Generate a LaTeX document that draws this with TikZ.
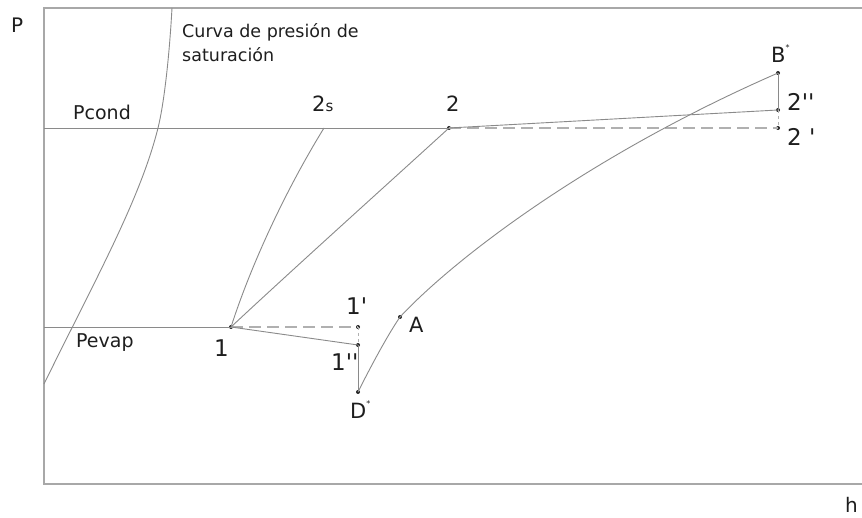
\documentclass[tikz,border=0pt]{standalone}
\usepackage{fontspec}
\setmainfont{DejaVu Sans}
\definecolor{ln}{HTML}{8A8A8A}
\definecolor{fr}{HTML}{A8A8A8}
\definecolor{dsh}{HTML}{B0B0B0}
\definecolor{tx}{HTML}{1E1E1E}
\tikzset{
  frameline/.style={draw=fr, line width=1.4pt},
  curveline/.style={draw=ln, line width=0.9pt},
  dashline/.style={draw=dsh, line width=1.5pt, dash pattern=on 12pt off 6pt},
  shortdash/.style={draw=dsh, line width=1pt, dash pattern=on 3pt off 3pt},
  lbl/.style={inner sep=0pt, anchor=base west, text=tx, font=\fontsize{21}{24}\selectfont},
  axislbl/.style={inner sep=0pt, anchor=base west, text=tx, font=\fontsize{19}{22}\selectfont},
  note/.style={inner sep=0pt, anchor=base west, text=tx, font=\fontsize{17.5}{24}\selectfont},
  ptdot/.style={circle, fill=black!85, inner sep=0pt, minimum size=4pt}
}
\newcommand{\smallstar}{\raisebox{0.55em}{\fontsize{8}{8}\selectfont *}}
\begin{document}
\begin{tikzpicture}[x=1pt,y=-1pt]
\useasboundingbox (0,0) rectangle (862,518);
% frame
\coordinate (fTR) at (862,8);
\coordinate (fTL) at (44,8);
\coordinate (fBL) at (44,484);
\coordinate (fBR) at (862,484);
\draw[frameline] (fTR) -- (fTL) -- (fBL) -- (fBR);
% key points
\coordinate (condL) at (44,128);
\coordinate (evapL) at (44,327);
\coordinate (p2s) at (324,128);
\coordinate (satTop) at (172,8);
\coordinate (satMid) at (158,128);
\coordinate (satBot) at (44,384);
\node[ptdot] (p1) at (231,327) {};
\node[ptdot] (p1a) at (358,327) {};
\node[ptdot] (p1b) at (358,345) {};
\node[ptdot] (pD) at (358,392) {};
\node[ptdot] (pA) at (400,317) {};
\node[ptdot] (pB) at (778,73) {};
\node[ptdot] (p2) at (449,128) {};
\node[ptdot] (p2b) at (778,110) {};
\node[ptdot] (p2a) at (778,128) {};
% saturation curve
\draw[curveline] (satTop) .. controls (169,62) and (163.5,106) .. (satMid)
  .. controls (140,200) and (95,280) .. (satBot);
% isobars
\draw[curveline] (condL) -- (p2.center);
\draw[dashline] (p2.center) -- (p2a.center);
\draw[curveline] (evapL) -- (p1.center);
\draw[dashline] (p1.center) -- (p1a.center);
\draw[curveline] (p1.center) -- (p1b.center);
\draw[shortdash] (p1a.center) -- (p1b.center);
\draw[curveline] (p1b.center) -- (pD.center);
\draw[curveline] (p2.center) -- (p2b.center);
\draw[curveline] (pB.center) -- (p2b.center);
\draw[shortdash] (p2b.center) -- (p2a.center);
% compression curves
\draw[curveline] (p1.center) .. controls (252,262) and (287,188) .. (p2s);
\draw[curveline] (p1.center) .. controls (292,270) and (392,180) .. (p2.center);
\draw[curveline] (pA.center) .. controls (455,258) and (590,155) .. (pB.center);
\draw[curveline] (pD.center) .. controls (370,368) and (387,336) .. (pA.center);
% labels
\node[axislbl, font=\fontsize{20}{22}\selectfont] (lP) at (11,33) {P};
\node[axislbl, font=\fontsize{20}{22}\selectfont] (lh) at (845,512) {h};
\node[axislbl] (lcond) at (73,120) {Pcond};
\node[axislbl] (levap) at (76,348) {Pevap};
\node[note] (lcurva) at (182,38) {Curva de presión de};
\node[note] (lsat) at (182,62) {saturación};
\node[lbl] (l2s) at (312,111.5) {2\fontsize{15}{15}\selectfont s};
\node[lbl] (l2) at (446,111.5) {2};
\node[lbl] (lB) at (771,62.5) {B\smallstar};
\node[lbl, font=\fontsize{23}{24}\selectfont] (l2b) at (787,111) {2\textquotesingle\textquotesingle};
\node[lbl, font=\fontsize{23}{24}\selectfont] (l2a) at (787,146) {2 \textquotesingle};
\node[lbl, font=\fontsize{23}{24}\selectfont] (l1) at (214,357) {1};
\node[lbl, font=\fontsize{23}{24}\selectfont] (l1a) at (346,315) {1\textquotesingle};
\node[lbl, font=\fontsize{23}{24}\selectfont] (l1b) at (331,371) {1\textquotesingle\textquotesingle};
\node[lbl] (lA) at (409,332.5) {A};
\node[lbl] (lD) at (350,418) {D\smallstar};
\end{tikzpicture}
\end{document}
